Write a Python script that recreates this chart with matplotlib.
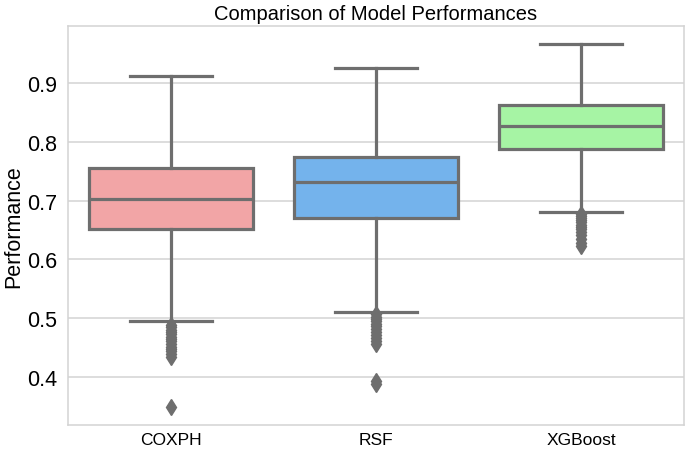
import matplotlib.pyplot as plt

# Models and box statistics
models = ['COXPH', 'RSF', 'XGBoost']
colors = ['#f2a5a6', '#74b3ec', '#a6f4a4']

whisker_low = [0.494, 0.510, 0.681]
q1 = [0.651, 0.670, 0.788]
median = [0.703, 0.731, 0.827]
q3 = [0.755, 0.774, 0.863]
whisker_high = [0.912, 0.926, 0.966]

fliers_coxph = [0.488, 0.484, 0.480, 0.476, 0.472, 0.468, 0.464, 0.460, 0.455,
                0.451, 0.447, 0.443, 0.438, 0.433, 0.348]
fliers_rsf = [0.506, 0.502, 0.498, 0.494, 0.490, 0.486, 0.481, 0.476, 0.471,
              0.466, 0.461, 0.455, 0.393, 0.388]
fliers_xgb = [0.677, 0.674, 0.670, 0.667, 0.663, 0.659, 0.655, 0.651, 0.647,
              0.641, 0.634, 0.627, 0.623]
fliers = [fliers_coxph, fliers_rsf, fliers_xgb]

line_color = '#6e6e6e'

plt.rcParams['font.family'] = ['Liberation Sans', 'DejaVu Sans']

fig = plt.figure(figsize=(6.85, 4.52), dpi=100)
ax = fig.add_axes([0.0993, 0.058, 0.8992, 0.8832])

stats = []
for i in range(len(models)):
    stats.append({'label': models[i], 'whislo': whisker_low[i], 'q1': q1[i],
                  'med': median[i], 'q3': q3[i], 'whishi': whisker_high[i],
                  'fliers': fliers[i]})

bp = ax.bxp(stats, positions=range(len(models)), widths=0.8, patch_artist=True,
            showfliers=True,
            boxprops=dict(edgecolor=line_color, linewidth=2.3),
            medianprops=dict(color=line_color, linewidth=2.3),
            whiskerprops=dict(color=line_color, linewidth=2.3),
            capprops=dict(color=line_color, linewidth=2.3),
            flierprops=dict(marker='d', markerfacecolor=line_color,
                            markeredgecolor=line_color, markersize=8.5))
for patch, c in zip(bp['boxes'], colors):
    patch.set_facecolor(c)
for cap in bp['caps']:
    x = cap.get_xdata()
    mid = (x[0] + x[1]) / 2
    cap.set_xdata([mid - 0.2, mid + 0.2])

ax.set_xlim(-0.5, 2.5)
ax.set_ylim(0.318, 0.998)
ax.set_yticks([0.4, 0.5, 0.6, 0.7, 0.8, 0.9])
ax.yaxis.grid(True, color='#d3d3d3', linewidth=1.1)
ax.set_axisbelow(True)
for s in ax.spines.values():
    s.set_color('#d3d3d3')
    s.set_linewidth(1.1)
ax.tick_params(axis='both', length=0)
ax.tick_params(axis='y', labelsize=15.5, pad=8)
ax.tick_params(axis='x', labelsize=12.5, pad=5)
ax.set_xticks(range(len(models)))
ax.set_xticklabels(models)

ax.set_title('Comparison of Model Performances', fontsize=14.5, pad=5)
ax.set_ylabel('Performance', fontsize=15.5, labelpad=2)

plt.savefig('out.png', dpi=100)
